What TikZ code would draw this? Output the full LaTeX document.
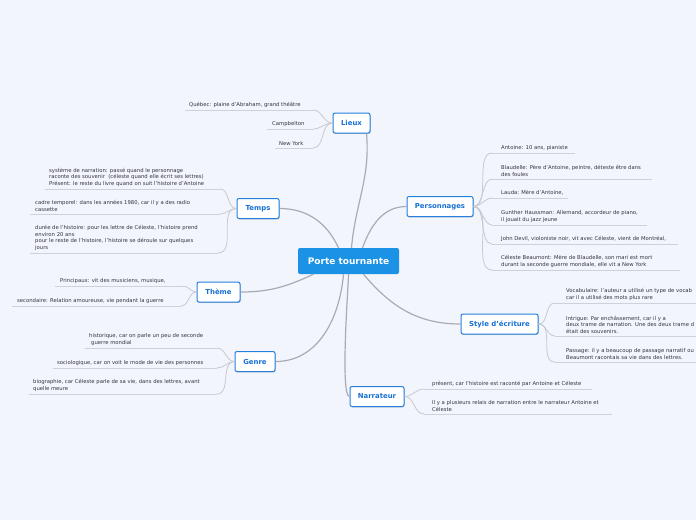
\documentclass[tikz,border=0pt]{standalone}
\usepackage{fontspec}
\setmainfont{DejaVu Sans}
\usetikzlibrary{shadows}
\definecolor{bgc}{RGB}{243,245,253}
\definecolor{leaftext}{RGB}{50,50,60}
\definecolor{ulc}{RGB}{206,208,218}
\definecolor{lconnc}{RGB}{198,200,210}
\definecolor{mconnc}{RGB}{168,170,184}
\definecolor{brborder}{RGB}{38,128,222}
\definecolor{brtext}{RGB}{22,112,212}
\definecolor{centerfill}{RGB}{28,146,230}
\tikzset{
  leaf/.style={anchor=south west, inner xsep=0pt, inner ysep=2.3pt, align=left,
    font=\fontsize{5.3}{6.6}\selectfont, text=leaftext},
  uline/.style={draw=ulc, line width=0.8pt},
  lconn/.style={draw=lconnc, line width=0.8pt},
  mconn/.style={draw=mconnc, line width=1.2pt},
  branch/.style={draw=brborder, line width=1pt, fill=white, rounded corners=2pt,
    minimum height=20pt, inner xsep=3pt, text=brtext,
    font=\fontsize{6.9}{8}\selectfont\bfseries,
    drop shadow={shadow xshift=0.6pt, shadow yshift=-0.9pt, opacity=0.25, fill=black}},
  centre/.style={fill=centerfill, rounded corners=2pt, minimum width=101pt,
    minimum height=26pt, text=white, font=\fontsize{9}{11}\selectfont\bfseries}
}
\newcommand\mmleaf[6]{%
  \node[leaf] (#1) at (#2,#3) {#6};
  \coordinate (#1a) at (#4,#3);
  \coordinate (#1b) at (#5,#3);
  \draw[uline] (#1a) -- (#1b);
}
\begin{document}
\begin{tikzpicture}[x=1pt,y=-1pt]
\useasboundingbox[fill=bgc] (0,0) rectangle (696,520);

% central node
\node[centre] (c) at (348.5,261) {Porte tournante};

% branch nodes
\node[branch, minimum width=37pt] (lieux) at (351.5,123) {Lieux};
\node[branch, minimum width=42pt] (temps) at (258,208.5) {Temps};
\node[branch, minimum width=43pt] (theme) at (218.5,292) {Thème};
\node[branch, minimum width=40pt] (genre) at (255,361.5) {Genre};
\node[branch, minimum width=66pt] (pers) at (440,206.5) {Personnages};
\node[branch, minimum width=77pt] (style) at (499.5,324) {Style d'écriture};
\node[branch, minimum width=54pt] (narr) at (377,396.5) {Narrateur};

% main connectors
\draw[mconn] ([xshift=3pt]c.north) to[out=85,in=-85] ([xshift=-4pt]lieux.south east);
\draw[mconn] ([xshift=-10pt]c.north) to[out=115,in=0] (temps.east);
\draw[mconn] ([xshift=14pt]c.north) to[out=70,in=180] (pers.west);
\draw[mconn] ([xshift=-35pt]c.south) to[out=-155,in=0] (theme.east);
\draw[mconn] ([xshift=-5pt]c.south) to[out=-95,in=0] (genre.east);
\draw[mconn] (c.south) to[out=-90,in=180,looseness=0.2] (narr.west);
\draw[mconn] ([xshift=15pt]c.south) to[out=-50,in=180] (style.west);

% Lieux leaves
\mmleaf{lq}{189}{110}{185}{313}{Québec: plaine d'Abraham, grand théâtre}
\mmleaf{lc}{272}{129}{267}{313}{Campbelton}
\mmleaf{ln}{279}{148}{275}{313}{New York}
\foreach \l in {lq,lc,ln} \draw[lconn] (lieux.west) to[out=180,in=0] (\l b);

% Temps leaves
\mmleaf{ta}{49}{189}{45}{220}{système de narration: passé quand le personnage\\raconte des souvenir\ \ (céleste quand elle écrit ses lettres)\\Présent: le reste du livre quand on suit l'histoire d'Antoine}
\mmleaf{tb}{35}{214}{30}{220}{cadre temporel: dans les années 1980, car il y a des radio\\cassette}
\mmleaf{tc}{35}{253}{30}{218}{durée de l'histoire: pour les lettre de Céleste, l'histoire prend\\environ 20 ans\\pour le reste de l'histoire, l'histoire se déroule sur quelques\\jours}
\foreach \l in {ta,tb,tc} \draw[lconn] (temps.west) to[out=180,in=0] (\l b);

% Theme leaves
\mmleaf{ha}{60}{286}{55}{183}{Principaux: vit des musiciens, musique,}
\mmleaf{hb}{17}{306}{12}{181}{secondaire: Relation amoureuse, vie pendant la guerre}
\foreach \l in {ha,hb} \draw[lconn] (theme.west) to[out=180,in=0] (\l b);

% Genre leaves
\mmleaf{ga}{89}{348}{85}{217}{historique, car on parle un peu de seconde\\\hspace*{2pt}guerre mondial}
\mmleaf{gb}{57}{368}{53}{217}{sociologique, car on voit le mode de vie des personnes}
\mmleaf{gc}{33}{394}{29}{217}{biographie, car Céleste parle de sa vie, dans des lettres, avant\\quelle meure}
\foreach \l in {ga,gb,gc} \draw[lconn] (genre.west) to[out=180,in=0] (\l b);

% Personnages leaves
\mmleaf{pa}{501}{153}{492}{575}{Antoine: 10 ans, pianiste}
\mmleaf{pb}{501}{179}{492}{652}{Blaudelle: Père d'Antoine, peintre, déteste être dans\\des foules}
\mmleaf{pc}{501}{198}{492}{568}{Lauda: Mère d'Antoine,}
\mmleaf{pd}{501}{225}{492}{647}{Gunther Haussman: Allemand, accordeur de piano,\\il jouait du jazz jeune}
\mmleaf{pe}{501}{244}{492}{678}{John Devil, violoniste noir, vit avec Céleste, vient de Montréal,}
\mmleaf{pf}{501}{270}{492}{680}{Céleste Beaumont: Mère de Blaudelle, son mari est mort\\durant la seconde guerre mondiale, elle vit a New York}
\foreach \l in {pa,pb,pc,pd,pe,pf} \draw[lconn] (pers.east) to[out=0,in=180,looseness=0.8] (\l a);

% Style leaves
\mmleaf{sa}{566}{303}{555}{700}{Vocabulaire: l'auteur a utilisé un type de vocab\\car il a utilisé des mots plus rare}
\mmleaf{sb}{566}{336}{555}{700}{Intrigue: Par enchâssement, car il y a\\deux trame de narration. Une des deux trame d\\était des souvenirs.}
\mmleaf{sc}{566}{362}{555}{700}{Passage: il y a beaucoup de passage narratif ou\\Beaumont racontais sa vie dans des lettres.}
\foreach \l in {sa,sb,sc} \draw[lconn] (style.east) to[out=0,in=180] (\l a);

% Narrateur leaves
\mmleaf{na}{432}{389}{424}{592}{présent, car l'histoire est raconté par Antoine et Céleste}
\mmleaf{nb}{432}{414}{424}{612}{Il y a plusieurs relais de narration entre le narrateur Antoine et\\Céleste}
\foreach \l in {na,nb} \draw[lconn] (narr.east) to[out=0,in=180] (\l a);
\end{tikzpicture}
\end{document}
